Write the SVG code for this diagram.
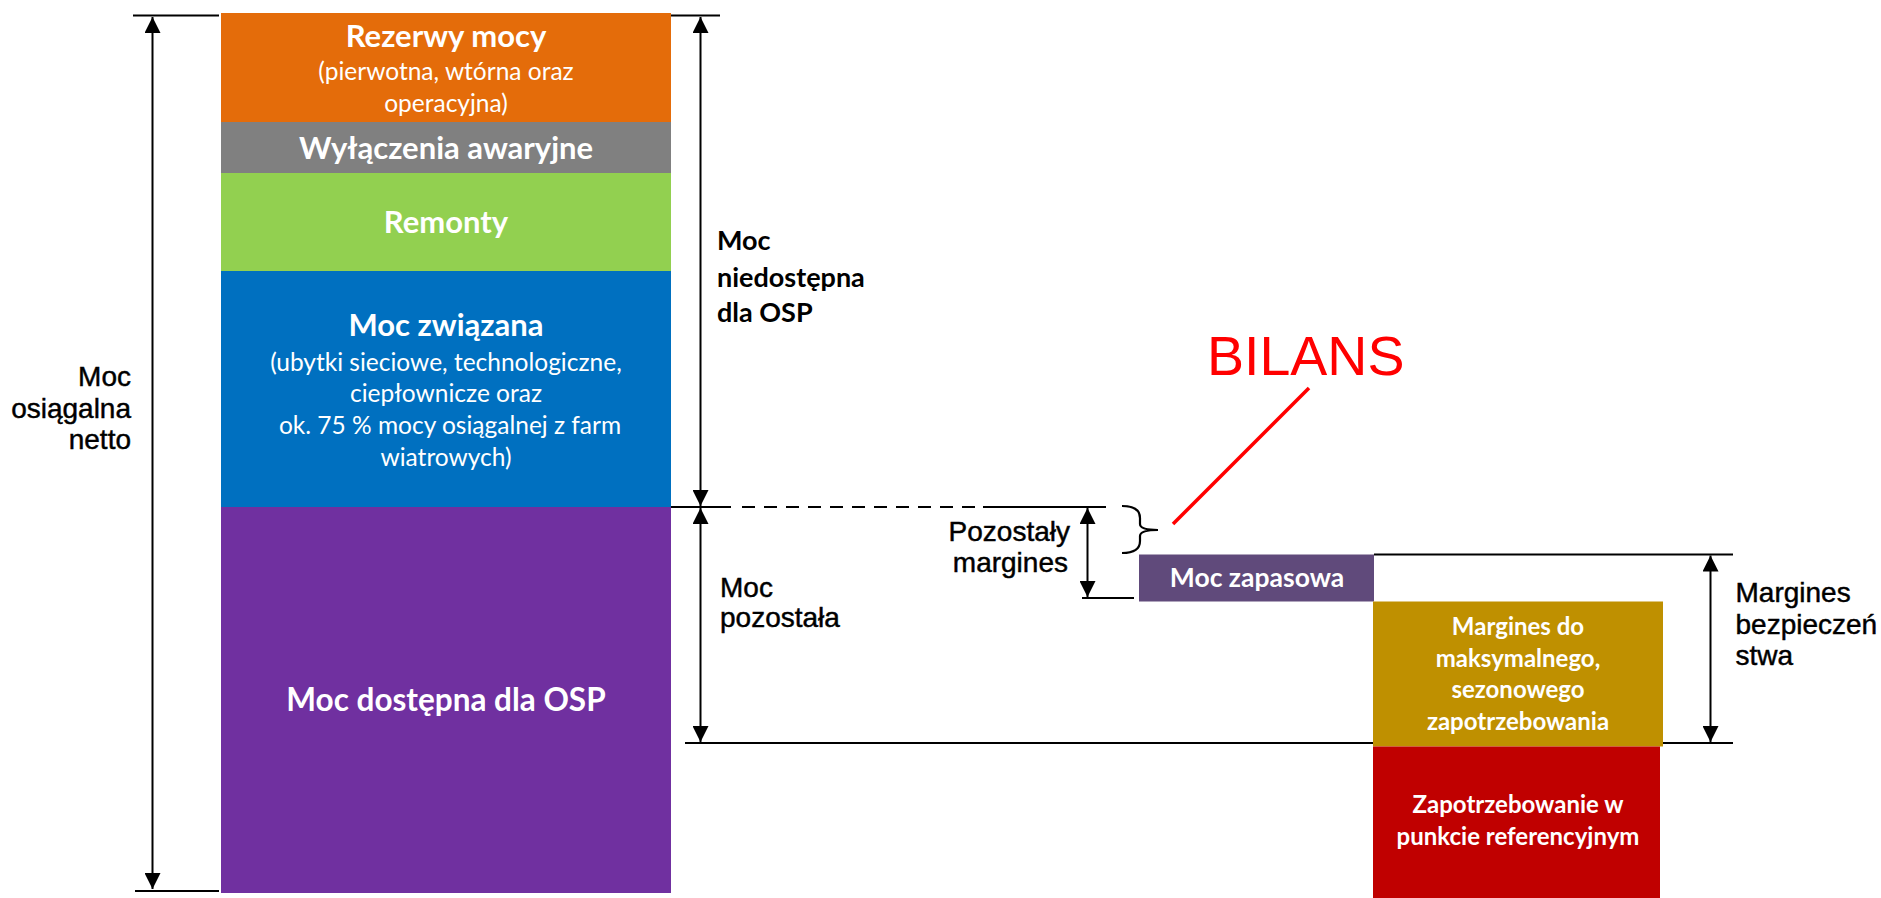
<svg xmlns="http://www.w3.org/2000/svg" width="1881" height="898" viewBox="0 0 1881 898">
<style>
.box-title{font-family:Lato,"Open Sans",sans-serif;font-weight:bold;fill:#fff;text-anchor:middle}
.box-sub{font-family:Lato,"Open Sans",sans-serif;fill:#fff;text-anchor:middle}
.lbl{font-family:"Liberation Sans",Arial,sans-serif;font-size:28px;fill:#000;stroke:#000;stroke-width:0.45}
.lblb{font-family:Lato,"Open Sans",sans-serif;font-weight:bold;font-size:27px;fill:#000}
.ln{stroke:#000;stroke-width:2.2;fill:none}
.arr{stroke:#000;stroke-width:2;fill:none;marker-start:url(#ah);marker-end:url(#ah)}
</style>
<defs>
<marker id="ah" viewBox="0 0 16 16" refX="16" refY="8" markerWidth="16" markerHeight="16" markerUnits="userSpaceOnUse" orient="auto-start-reverse">
<path d="M0,0 L16,8 L0,16 Z" fill="#000"/>
</marker>
</defs>
<rect width="1881" height="898" fill="#fff"/>

<g id="connectors">
<line class="ln" x1="133" y1="15.5" x2="219" y2="15.5"/>
<line class="ln" x1="671" y1="15.5" x2="720" y2="15.5"/>
<line class="ln" x1="135" y1="891" x2="219" y2="891"/>
<line class="ln" x1="671" y1="507" x2="731" y2="507"/>
<line class="ln" x1="742" y1="507" x2="983" y2="507" stroke-dasharray="13 9"/>
<line class="ln" x1="983" y1="507" x2="1106" y2="507"/>
<line class="ln" x1="685" y1="743" x2="1733" y2="743"/>
<line class="ln" x1="1082" y1="598" x2="1134" y2="598"/>
<line class="ln" x1="1374" y1="554.5" x2="1733" y2="554.5"/>
<line class="arr" x1="152.5" y1="17" x2="152.5" y2="889"/>
<line class="arr" x1="700.5" y1="17" x2="700.5" y2="506"/>
<line class="arr" x1="700.5" y1="508" x2="700.5" y2="742"/>
<line class="arr" x1="1087.5" y1="508" x2="1087.5" y2="597"/>
<line class="arr" x1="1710.5" y1="555.5" x2="1710.5" y2="742"/>
<path class="ln" d="M1122,506 Q1140,506 1140,518 L1140,524 Q1140,530 1158,530 Q1140,530 1140,536 L1140,541 Q1140,553 1122,553"/>
<line x1="1173" y1="524" x2="1309" y2="388" stroke="#ff0000" stroke-width="3.5"/>
</g>

<g id="rezerwy">
<rect x="221" y="13" width="450" height="109" fill="#E46C0A"/>
<text class="box-title" x="446" y="46.5" font-size="31">Rezerwy mocy</text>
<text class="box-sub" x="446" y="80" font-size="24.5">(pierwotna, wtórna oraz</text>
<text class="box-sub" x="446" y="112" font-size="24.5">operacyjna)</text>
</g>
<g id="wylaczenia">
<rect x="221" y="122" width="450" height="51" fill="#808080"/>
<text class="box-title" x="446" y="159" font-size="31">Wyłączenia awaryjne</text>
</g>
<g id="remonty">
<rect x="221" y="173" width="450" height="98" fill="#92D050"/>
<text class="box-title" x="446" y="233" font-size="31">Remonty</text>
</g>
<g id="zwiazana">
<rect x="221" y="271" width="450" height="236" fill="#0070C0"/>
<text class="box-title" x="446" y="336" font-size="31">Moc związana</text>
<text class="box-sub" x="446" y="370.5" font-size="24.5">(ubytki sieciowe, technologiczne,</text>
<text class="box-sub" x="446" y="402" font-size="24.5">ciepłownicze oraz</text>
<text class="box-sub" x="450" y="434" font-size="24.5">ok. 75 % mocy osiągalnej z farm</text>
<text class="box-sub" x="446" y="465.5" font-size="24.5">wiatrowych)</text>
</g>
<g id="dostepna">
<rect x="221" y="507" width="450" height="386" fill="#7030A0"/>
<text class="box-title" x="446" y="711" font-size="31.5">Moc dostępna dla OSP</text>
</g>
<g id="zapasowa">
<rect x="1139" y="554.5" width="235" height="47" fill="#604A7B"/>
<text class="box-title" x="1257" y="587" font-size="26.5">Moc zapasowa</text>
</g>
<g id="margines-do">
<rect x="1373" y="601.5" width="290" height="145" fill="#BF9000"/>
<text class="box-title" x="1518" y="635" font-size="24">Margines do</text>
<text class="box-title" x="1518" y="666.5" font-size="24">maksymalnego,</text>
<text class="box-title" x="1518" y="698" font-size="24">sezonowego</text>
<text class="box-title" x="1518" y="730" font-size="24">zapotrzebowania</text>
</g>
<g id="zapotrzebowanie">
<rect x="1373" y="746.5" width="287" height="152" fill="#C00000"/>
<text class="box-title" x="1518" y="813" font-size="24">Zapotrzebowanie w</text>
<text class="box-title" x="1518" y="845" font-size="24">punkcie referencyjnym</text>
</g>

<g id="label-osiagalna">
<text class="lbl" x="131" y="386" text-anchor="end">Moc</text>
<text class="lbl" x="131" y="417.5" text-anchor="end">osiągalna</text>
<text class="lbl" x="131" y="449" text-anchor="end">netto</text>
</g>
<g id="label-niedostepna">
<text class="lblb" x="717" y="250">Moc</text>
<text class="lblb" x="717" y="286.5">niedostępna</text>
<text class="lblb" x="717" y="322">dla OSP</text>
</g>
<g id="label-pozostala">
<text class="lbl" x="720" y="596.5">Moc</text>
<text class="lbl" x="720" y="627">pozostała</text>
</g>
<g id="label-pozostaly-margines">
<text class="lbl" x="1070" y="540.5" text-anchor="end">Pozostały</text>
<text class="lbl" x="1068" y="571.5" text-anchor="end">margines</text>
</g>
<g id="label-bezpieczenstwa">
<text class="lbl" x="1735.5" y="601.5">Margines</text>
<text class="lbl" x="1735.5" y="634">bezpieczeń</text>
<text class="lbl" x="1735.5" y="665">stwa</text>
</g>
<g id="bilans">
<text x="1207" y="375" font-family="'Liberation Sans',Arial,sans-serif" font-size="55.5" fill="#ff0000">BILANS</text>
</g>
</svg>
